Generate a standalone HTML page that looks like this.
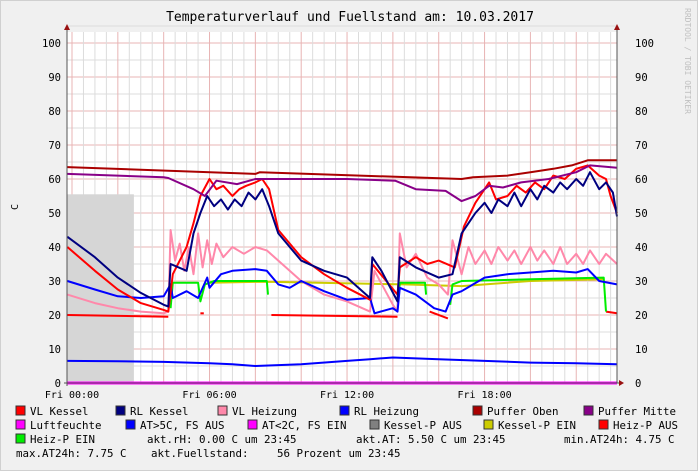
<!DOCTYPE html>
<html><head><meta charset="utf-8"><style>
html,body{margin:0;padding:0;background:#f0f0f0}
svg{display:block;font-family:"DejaVu Sans Mono","Liberation Mono",monospace}
</style></head><body>
<svg id="c" width="698" height="471" viewBox="0 0 698 471" xmlns="http://www.w3.org/2000/svg">
<rect x="0" y="0" width="698" height="471" fill="#f0f0f0" stroke="#d0d0d0" stroke-width="2"/>
<text x="350" y="21" font-size="13" text-anchor="middle" fill="#000">Temperaturverlauf und Fuellstand am: 10.03.2017</text>
<text transform="translate(18,207) rotate(-90)" font-size="10" text-anchor="middle">C</text>
<text transform="translate(685,8) rotate(90)" font-size="8" fill="#c0c0c0">RRDTOOL / TOBI OETIKER</text>
<g id="plot"></g>
<g id="legend" font-size="10.8"></g>
</svg>
<script>
// ---- data ----
const yTicks=[0,10,20,30,40,50,60,70,80,90,100];
const xTickHours=[0,6,12,18];
const xTickLabels=["Fri 00:00","Fri 06:00","Fri 12:00","Fri 18:00"];
const greyAreaTimes=[-0.2,2.7];
const greyAreaValue=55.5;
const tOben=[-0.2,8,8.2,17,17.5,19,20,21,21.8,22.5,23.78];
const vOben=[63.5,61.5,62,60,60.5,61,62,63,64,65.5,65.5];
const tMitte=[-0.2,4,4.2,5.3,5.8,6.3,7.2,8,12,14.1,15,16.3,17,17.6,18.2,18.8,19.6,20.8,22,22.6,23.78];
const vMitte=[61.5,60.5,60.3,57,55,59.5,58.5,60,60,59.5,57,56.5,53.5,55,58,57.5,59,60,62,64,63.3];
const tVLK=[-0.2,1,2,3,4,4.2,4.4,5,5.3,5.6,6,6.3,6.6,7,7.3,7.6,8,8.3,8.6,9,10,11,12,13,13.1,14.2,14.3,15,15.5,16,16.7,17.1,17.6,18.2,18.5,19,19.4,19.8,20.2,20.6,21,21.5,22,22.5,23,23.3,23.5,23.78];
const vVLK=[40,33,27.5,23.5,21.5,21,32,40,47,55,60,57,58,55,57,58,59,60,57,45,37,32,28,24.5,35,26,34,37,35,36,34,46,53,59,54,55,58,56,59,57,61,60,63,64,61,60,55,50];
const tRLK=[-0.2,1,2,3,4,4.2,4.3,5,5.3,5.6,5.9,6.2,6.5,6.8,7.1,7.4,7.7,8,8.3,8.6,9,10,11,12,13,13.1,13.5,14.2,14.3,15,16,16.6,17,17.3,17.6,18,18.3,18.6,19,19.3,19.6,20,20.3,20.6,21,21.3,21.6,22,22.3,22.6,23,23.3,23.6,23.78];
const vRLK=[43,37,31,26.5,23,22.5,35,33,44,50,55,52,54,51,54,52,56,54,57,52,44,36,33,31,25,37,33,24,37,34,31,32,44,47,50,53,50,54,52,56,52,57,54,58,56,59,57,60,58,62,57,59,56,49];
const tVLH=[-0.2,1,2,3,4,4.2,4.3,4.5,4.7,4.9,5.1,5.3,5.5,5.7,5.9,6.1,6.3,6.6,7,7.5,8,8.5,9,10,11,12,13,13.2,14,14.2,14.3,14.6,15,15.5,16,16.4,16.6,17,17.3,17.6,18,18.3,18.6,19,19.3,19.6,20,20.3,20.6,21,21.3,21.6,22,22.3,22.6,23,23.3,23.78];
const vVLH=[26,23.5,22,21,20.5,21,45,36,41,33,40,32,44,34,42,35,41,37,40,38,40,39,36,30,26,24,21,33,23,21,44,34,38,31,29,26,42,32,40,35,39,35,40,36,39,35,40,36,39,35,40,35,38,35,39,35,38,35];
const tRLH=[-0.2,1,2,3,4,4.3,4.4,5,5.5,5.9,6,6.5,7,8,8.5,9,9.5,10,11,12,13,13.2,14,14.2,14.3,15,15.8,16.3,16.6,17,17.5,18,19,20,21,22,22.5,23,23.78];
const vRLH=[30,27.5,25.5,25,25.5,29,25,27,25,31,28,32,33,33.5,33,29,28,30,27,24.5,25,20.5,22,21,28,26,22,21,26,27,29,31,32,32.5,33,32.5,33.5,30,29];
const tHeizEin1=[4.3,4.4,5.5,5.6,5.8,6.2,8.5,8.55];
const vHeizEin1=[22,29.5,29.5,24,29,30,30,26];
const tHeizEin2=[14.2,14.3,15.4,15.45];
const vHeizEin2=[22,29.5,29.5,26];
const tHeizEin3=[16.5,16.6,17,20,23.2,23.3];
const vHeizEin3=[23,29,30,30.5,31,21];
const tKesselEin=[6,8.5,14.5,17,20,23.2];
const vKesselEin=[29.5,29.8,29,28.5,30,30.5];
const tHeizAus1=[-0.2,4.2];const vHeizAus1=[20,19.5];
const tHeizAus2=[5.6,5.75];const vHeizAus2=[20.5,20.5];
const tHeizAus3=[8.7,14.2];const vHeizAus3=[20,19.5];
const tHeizAus4=[15.6,16.4];const vHeizAus4=[21,19];
const tHeizAus5=[23.3,23.78];const vHeizAus5=[21,20.5];
const tAT=[-0.2,2,4,6,7,8,10,12,13,14,16,18,20,22,23.78];
const vAT=[6.5,6.4,6.2,5.8,5.5,5,5.5,6.5,7,7.5,7,6.5,6,5.8,5.5];
const tFeuchte=[-0.2,23.78];const vFeuchte=[0,0];
// ---- scales ----
const X0=72,PXH=22.92,Y0=383,PXV=3.4,LEFT=67,RIGHT=617,TOP=32;
const xs=h=>X0+h*PXH, ys=v=>Y0-v*PXV;
const NS="http://www.w3.org/2000/svg";
const plot=document.getElementById('plot');
function mk(tag,attrs,parent){const e=document.createElementNS(NS,tag);for(const k in attrs)e.setAttribute(k,attrs[k]);(parent||plot).appendChild(e);return e;}
mk('rect',{x:LEFT,y:TOP,width:RIGHT-LEFT,height:Y0-TOP,fill:'#fff'});
for(let v=0;v<=105;v+=5){const l=mk('line',{x1:LEFT,x2:RIGHT,y1:ys(v),y2:ys(v),stroke:v%10==0?'#e8b4b4':'#dcdcdc','stroke-width':1});

}
for(let h=0;h<=23.5;h+=0.5){const l=mk('line',{x1:xs(h),x2:xs(h),y1:TOP,y2:Y0,stroke:h%2==0?'#e8b4b4':'#dcdcdc','stroke-width':1});

}
const ga=mk('rect',{x:LEFT,y:ys(greyAreaValue),width:xs(greyAreaTimes[1])-LEFT,height:Y0-ys(greyAreaValue),fill:'#d6d6d6'});


function line(ts,vs,color,name,w){const p=ts.map((t,i)=>xs(Math.max(t,-0.2)).toFixed(1)+','+ys(vs[i]).toFixed(1)).join(' ');
const e=mk('polyline',{points:p,fill:'none',stroke:color,'stroke-width':w||2,'stroke-linejoin':'round'});

}
line(tHeizAus1,vHeizAus1,'#ff0000','heiz-p-aus-line');
line(tHeizAus2,vHeizAus2,'#ff0000','heiz-p-aus-line');
line(tHeizAus3,vHeizAus3,'#ff0000','heiz-p-aus-line');
line(tHeizAus4,vHeizAus4,'#ff0000','heiz-p-aus-line');
line(tHeizAus5,vHeizAus5,'#ff0000','heiz-p-aus-line');
line(tKesselEin,vKesselEin,'#cccc00','kessel-p-ein-line');
line(tHeizEin1,vHeizEin1,'#00ee00','heiz-p-ein-line');
line(tHeizEin2,vHeizEin2,'#00ee00','heiz-p-ein-line');
line(tHeizEin3,vHeizEin3,'#00ee00','heiz-p-ein-line');
line(tVLH,vVLH,'#ff88aa','vl-heizung-line');
line(tRLH,vRLH,'#0000ff','rl-heizung-line');
line(tVLK,vVLK,'#ff0000','vl-kessel-line');
line(tRLK,vRLK,'#000080','rl-kessel-line');
line(tMitte,vMitte,'#880088','puffer-mitte-line');
line(tOben,vOben,'#aa0000','puffer-oben-line');
line(tAT,vAT,'#0000ff','aussentemperatur-line');
line(tFeuchte,vFeuchte,'#ff00ff','luftfeuchte-line',3);
mk('line',{x1:LEFT,x2:LEFT,y1:Y0+3,y2:27,stroke:'#555'});
mk('line',{x1:RIGHT,x2:RIGHT,y1:Y0,y2:27,stroke:'#555'});
mk('line',{x1:LEFT-3,x2:RIGHT+2,y1:Y0,y2:Y0,stroke:'#555'});
mk('polygon',{points:`${LEFT-3},30 ${LEFT+3},30 ${LEFT},24`,fill:'#991111'});
mk('polygon',{points:`${RIGHT-3},30 ${RIGHT+3},30 ${RIGHT},24`,fill:'#991111'});
mk('polygon',{points:`${RIGHT+2},${Y0-3} ${RIGHT+2},${Y0+3} ${RIGHT+7},${Y0}`,fill:'#991111'});
yTicks.forEach(v=>{
const a=mk('text',{x:61,y:ys(v)+4,'font-size':10.5,'text-anchor':'end'});a.textContent=v;


const b=mk('text',{x:635,y:ys(v)+4,'font-size':10.5});b.textContent=v;

});
xTickHours.forEach((h,i)=>{const a=mk('text',{x:xs(h),y:398,'font-size':10,'text-anchor':'middle'});a.textContent=xTickLabels[i];

});
const lg=document.getElementById('legend');
const legendItems=[["VL Kessel","#ff0000",16,415],["RL Kessel","#000080",116,415],["VL Heizung","#ff88aa",218,415],["RL Heizung","#0000ff",340,415],["Puffer Oben","#aa0000",473,415],["Puffer Mitte","#880088",584,415],
["Luftfeuchte","#ff00ff",16,429],["AT>5C, FS AUS","#0000ff",126,429],["AT<2C, FS EIN","#ff00ff",248,429],["Kessel-P AUS","#808080",370,429],["Kessel-P EIN","#cccc00",484,429],["Heiz-P AUS","#ff0000",599,429],["Heiz-P EIN","#00ee00",16,443]];
legendItems.forEach(it=>{
const r=mk('rect',{x:it[2],y:it[3]-9,width:9,height:9,fill:it[1],stroke:'#333','stroke-width':1},lg);


const t=mk('text',{x:it[2]+14,y:it[3]},lg);t.textContent=it[0];

});
const infos=[["akt.rH: 0.00 C um 23:45",147,443],["akt.AT: 5.50 C um 23:45",356,443],["min.AT24h: 4.75 C",564,443],["max.AT24h: 7.75 C",16,457],["akt.Fuellstand:",151,457],["56 Prozent um 23:45",277,457]];
infos.forEach(it=>{const t=mk('text',{x:it[1],y:it[2]},lg);t.textContent=it[0];

});
</script>
</body></html>
